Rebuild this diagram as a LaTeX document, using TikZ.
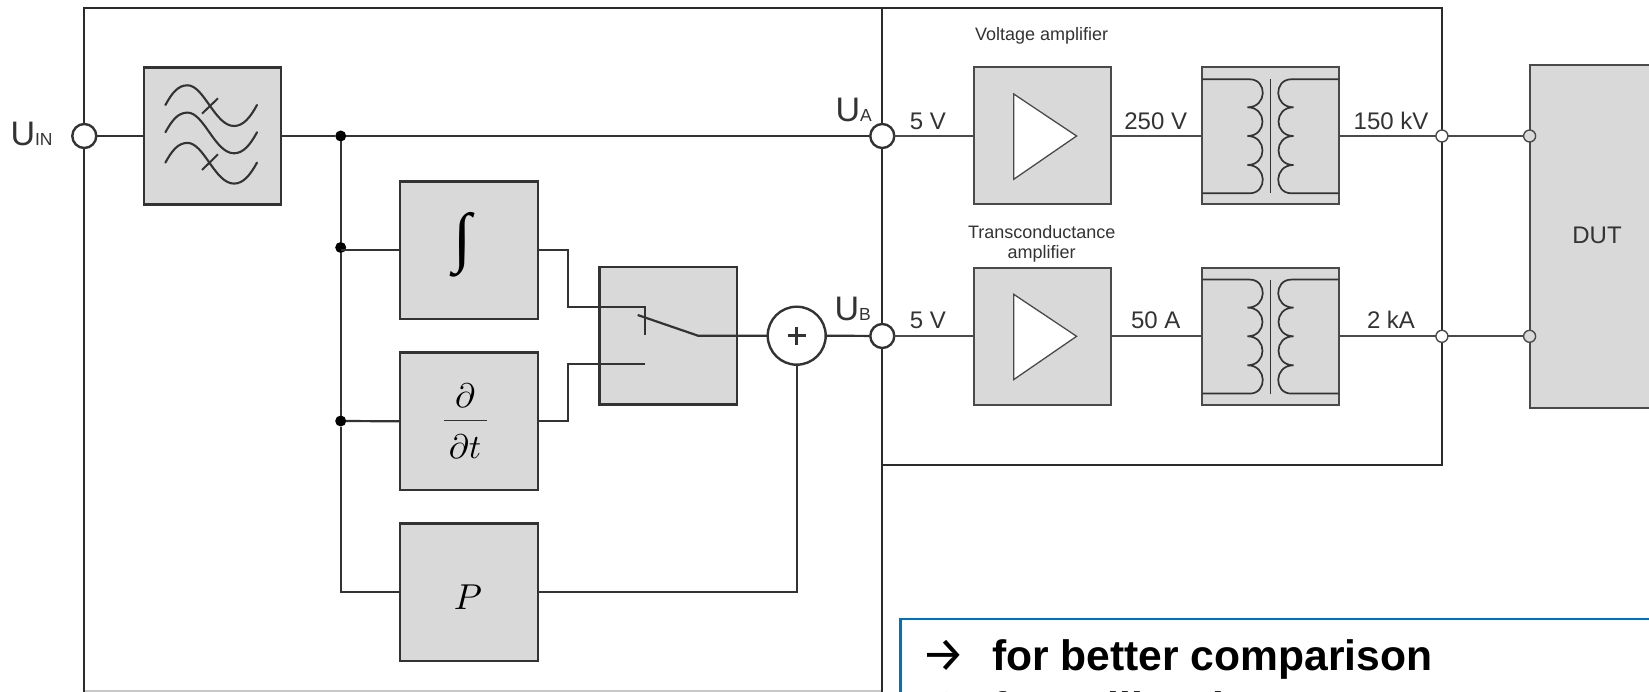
\documentclass[tikz,border=0pt]{standalone}
\usepackage{fontspec}
\setmainfont{Liberation Sans}
\newfontfamily\symfont{Fira Sans}
\newfontfamily\intfont{Liberation Serif}
\newcommand{\fs}[1]{\fontsize{#1pt}{#1pt}\selectfont}
\newcommand{\coilpath}{(-68.2,-56.7) -- (-20.8,-56.7)
     .. controls (-3,-56.7) and (-3,-28.7) .. (-23,-28.7)
     .. controls (-3,-28.7) and (-3,0) .. (-23,0)
     .. controls (-3,0) and (-3,29) .. (-23,29)
     .. controls (-3,29) and (-3,57.3) .. (-20.8,57.3)
     -- (-68.2,57.3)}
\definecolor{boxgrey}{HTML}{D9D9D9}
\definecolor{ink}{HTML}{333333}
\definecolor{inkb}{HTML}{4A4A4A}
\definecolor{framebk}{HTML}{2B2B2B}
\definecolor{noteblue}{HTML}{0070C0}
\definecolor{edgegrey}{HTML}{C8C8C8}
\tikzset{
  x=1pt,y=-1pt,
  wire/.style={draw=ink,line width=2.2pt},
  thinwire/.style={draw=inkb,line width=1.7pt},
  frameline/.style={draw=framebk,line width=2.2pt,line join=miter},
  blk/.style={rectangle,draw=ink,fill=boxgrey,line width=2.4pt,inner sep=0pt,outer sep=0pt,minimum width=137.5pt,minimum height=137.3pt},
  rblk/.style={rectangle,draw=inkb,fill=boxgrey,line width=2pt,inner sep=0pt,outer sep=0pt,minimum width=137pt,minimum height=137pt},
  port/.style={circle,draw=ink,fill=white,line width=2.4pt,inner sep=0pt,outer sep=0pt,minimum size=24pt},
  smallport/.style={circle,draw=inkb,fill=white,line width=1.4pt,inner sep=0pt,outer sep=0pt,minimum size=12pt},
  dot/.style={circle,fill=black,draw=none,inner sep=0pt,outer sep=0pt,minimum size=11pt},
  lbl/.style={inner sep=0pt,outer sep=0pt,text=ink,anchor=base,font=\fs{24}},
  caplabel/.style={inner sep=0pt,outer sep=0pt,text=ink,anchor=center,font=\fs{18}},
  ubig/.style={inner sep=0pt,outer sep=0pt,text=ink,anchor=base west,font=\fs{34}},
  mathsym/.style={inner sep=0pt,outer sep=0pt,text=black},
  notetext/.style={inner sep=0pt,outer sep=0pt,text=black,anchor=base west,font=\fs{42.6}\bfseries},
  notearrow/.style={inner sep=0pt,outer sep=0pt,text=black,anchor=base west,font=\fs{49}\symfont},
  ampsym/.pic={\draw[draw=inkb,fill=white,line width=1.3pt,line join=miter] (-28.7,-42)--(34.2,0)--(-28.7,43.3)--cycle;},
  xfmr/.pic={
     \draw[draw=ink,line width=1.7pt] \coilpath;
     \draw[draw=ink,line width=1.7pt,xscale=-1] \coilpath;
     \draw[draw=ink,line width=1.4pt] (0,-56.7)--(0,57.3);},
  sinewave/.pic={\draw[draw=ink,line width=2.1pt,line cap=round]
     (165.4,105) .. controls (172,93) and (178,85.3) .. (187.5,85.3)
     .. controls (204,85.3) and (215,126) .. (234,126)
     .. controls (243,126) and (250,118) .. (257,105);},
}
\begin{document}
\begin{tikzpicture}
\path[use as bounding box] (0,0) rectangle (1649,692);
\begin{scope}
\clip (0,0) rectangle (1649,692);
\fill[white] (0,0) rectangle (1649,692);

% frames
\draw[edgegrey,line width=1.6pt] (84.3,691) -- (882.3,691);
\draw[frameline] (84.3,692) -- (84.3,8) -- (1441.9,8) -- (1441.9,465) -- (882.3,465);
\draw[frameline] (882.3,8) -- (882.3,692);

% ports and junctions
\node[port] (uin) at (84.3,136) {};
\node[port] (ua) at (882.3,136) {};
\node[port] (ub) at (882.3,336) {};
\node[dot] (j1) at (340.7,136) {};
\node[dot] (j2) at (340.7,247.5) {};
\node[dot] (j3) at (340.7,421) {};
\coordinate (j4) at (340.7,592.3);

% blocks
\node[blk] (filter) at (212.5,136) {};
\node[blk] (int) at (469,250.3) {};
\node[blk] (ddt) at (469,421.3) {};
\node[blk] (prop) at (469,592.3) {};
\node[blk] (sw) at (668.3,335.7) {};
\node[rblk] (amp1) at (1042.4,136) {};
\node[rblk] (tr1) at (1270.5,136) {};
\node[rblk] (amp2) at (1042.4,336.3) {};
\node[rblk] (tr2) at (1270.5,336.3) {};
\node[rblk,minimum width=200pt,minimum height=343pt,anchor=north west] (dut) at (1529.6,65.3) {};
\node[circle,draw=ink,fill=white,line width=2.4pt,inner sep=0pt,outer sep=0pt,minimum size=58pt] (sum) at (796.7,335.7) {};

% filter symbol
\path (0,0) pic {sinewave};
\path (0,27.3) pic {sinewave};
\path (0,57.6) pic {sinewave};
\coordinate (ta1) at (202,113.7); \coordinate (tb1) at (218,98.3);
\coordinate (ta2) at (202,170);   \coordinate (tb2) at (218,154.3);
\draw[draw=ink,line width=2pt] (ta1) -- (tb1);
\draw[draw=ink,line width=2pt] (ta2) -- (tb2);

% wires, left part
\draw[wire] (uin) -- (filter.west);
\draw[wire] (filter.east) -- (j1) -- (ua);
\draw[wire] (j1) -- (j2) -- (j3) -- (j4) -- (prop.west);
\draw[wire] (int.west) -- (int.west -| j2);
\draw[wire] (ddt.west) -- (j3);
\coordinate (ma) at (568.3,250.3);
\coordinate (na) at (568.3,307.3);
\coordinate (swa) at (645,307.3);
\coordinate (swt) at (645,335);
\coordinate (mb) at (568.3,421.3);
\coordinate (nb) at (568.3,364.3);
\coordinate (swb) at (645,364.3);
\coordinate (arml) at (637.7,315);
\coordinate (armr) at (698,335.7);
\draw[wire,line join=miter] (int.east) -- (ma) -- (na) -- (swa) -- (swt);
\draw[wire,line join=miter] (ddt.east) -- (mb) -- (nb) -- (swb);
\draw[wire] (arml) -- (armr) -- (sum.west);
\draw[wire] (sum.east) -- (ub);
\draw[wire] (prop.east) -| (sum.south);
\coordinate (pa) at (787.7,335.7); \coordinate (pb) at (805.7,335.7);
\coordinate (pc) at (796.7,326.7); \coordinate (pd) at (796.7,344.7);
\draw[draw=ink,line width=2.6pt] (pa) -- (pb);
\draw[draw=ink,line width=2.6pt] (pc) -- (pd);

% wires, right part
\node[smallport] (outa) at (1441.9,136) {};
\node[smallport] (outb) at (1441.9,336.3) {};
\node[smallport,fill=boxgrey] (duta) at (1529.6,136) {};
\node[smallport,fill=boxgrey] (dutb) at (1529.6,336.3) {};
\draw[thinwire] (ua) -- (amp1.west);
\draw[thinwire] (amp1.east) -- (tr1.west);
\draw[thinwire] (tr1.east) -- (outa);
\draw[thinwire] (outa) -- (duta);
\draw[thinwire] (ub) -- (amp2.west |- ub);
\draw[thinwire] (amp2.east) -- (tr2.west);
\draw[thinwire] (tr2.east) -- (outb);
\draw[thinwire] (outb) -- (dutb);

% symbols inside the blocks
\path (amp1.center) pic {ampsym};
\path (amp2.center) pic {ampsym};
\path (tr1.center) pic {xfmr};
\path (tr2.center) pic {xfmr};
\node[mathsym,font=\fs{66}\intfont] (intsym) at (463,245) {∫};
\node[mathsym,scale=3.4] (dnum) at (465,396) {$\partial$};
\coordinate (bara) at (444,420.5); \coordinate (barb) at (486.7,420.5);
\draw[draw=ink,line width=1.4pt] (bara) -- (barb);
\node[mathsym,scale=3.4] (dden) at (465,447) {$\partial t$};
\node[mathsym,scale=3.6] (psym) at (468,597) {$P$};

% labels
\node[ubig] (luin) at (10.5,146) {U{\fs{17.5}IN}};
\node[ubig] (lua) at (835.5,121.7) {U{\fs{17.5}A}};
\node[ubig] (lub) at (834.5,320.7) {U{\fs{17.5}B}};
\node[lbl] (l5a) at (928,129.3) {5 V};
\node[lbl] (l5b) at (928,329) {5 V};
\node[lbl] (l250) at (1155.7,129.3) {250 V};
\node[lbl] (l50) at (1155.7,329) {50 A};
\node[lbl] (l150) at (1391,129.3) {150 kV};
\node[lbl] (l2k) at (1391,329) {2 kA};
\node[lbl,anchor=center] (ldut) at (1597,235) {DUT};
\node[caplabel] (lva) at (1041.7,35.7) {Voltage amplifier};
\node[caplabel] (lta) at (1041.7,232) {Transconductance};
\node[caplabel] (ltb) at (1041.7,254) {amplifier};

% note box
\node[draw=noteblue,fill=white,line width=2.6pt,rectangle,inner sep=0pt,outer sep=0pt,anchor=north west,minimum width=800pt,minimum height=200pt] (note) at (900.4,619) {};
\node[notearrow] (na1) at (921,671) {→};
\node[notetext] (nt1) at (992,670) {for better comparison};
\node[notearrow] (na2) at (921,723) {→};
\node[notetext] (nt2) at (992,722) {for calibration};
\end{scope}
\end{tikzpicture}
\end{document}
